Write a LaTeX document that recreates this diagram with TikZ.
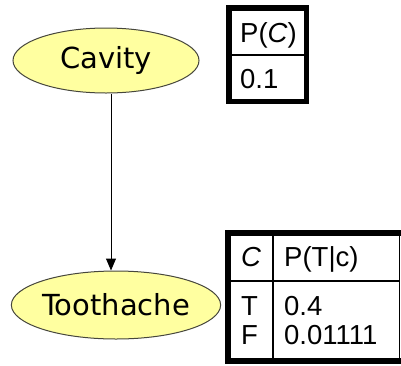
\documentclass[tikz,border=0pt]{standalone}
\usepackage{fontspec}
\setmainfont{DejaVu Sans}
\newfontfamily\tabfont{Liberation Sans}
\usetikzlibrary{shapes.geometric,arrows.meta}
\definecolor{nodefill}{RGB}{255,255,160}
\definecolor{nodeline}{RGB}{70,70,60}
\tikzset{
  bnnode/.style={ellipse, draw=nodeline, line width=1pt, fill=nodefill, inner sep=0pt,
    font=\fontsize{29}{31}\selectfont},
  tabtext/.style={anchor=base west, inner sep=0pt, font=\tabfont\fontsize{27.5}{29}\selectfont},
  thickborder/.style={line width=5.5pt},
  thinline/.style={line width=1.2pt},
  arrowline/.style={line width=1pt, -{Triangle[width=10pt,length=12pt]}}
}
\begin{document}
\begin{tikzpicture}[x=1pt,y=-1pt]
\useasboundingbox (0,0) rectangle (401,365);
% nodes
\node[bnnode, minimum width=186pt, minimum height=65pt] (cav) at (106,60.5) {Cavity};
\node[bnnode, minimum width=186pt, minimum height=68pt] (tooth) at (116,305) {Toothache};
% arrow
\path (cav.south) ++(5,0) coordinate (a1);
\draw[arrowline] (a1) -- (a1 |- tooth.north);
% table 1
\draw[thickborder] (228.75,7.75) rectangle (306.25,101.25);
\draw[thinline] (231.5,55) -- (303.5,55);
\node[tabtext] (pc) at (240,42) {P(\textit{C})};
\node[tabtext] (pcv) at (240,88) {0.1};
% table 2
\draw[thickborder] (401,232.75) -- (227.75,232.75) -- (227.75,360.75) -- (401,360.75);
\draw[thinline] (399.4,235.5) -- (399.4,358);
\draw[thinline] (273,235.5) -- (273,358);
\draw[thinline] (230.5,281) -- (399.4,281);
\node[tabtext] (hc) at (241,266) {\textit{C}};
\node[tabtext] (htc) at (284,266) {P(T|c)};
\node[tabtext] (rt) at (241,315) {T};
\node[tabtext] (rf) at (241,344) {F};
\node[tabtext] (vt) at (284,315) {0.4};
\node[tabtext] (vf) at (284,344) {0.01111};
\end{tikzpicture}
\end{document}
